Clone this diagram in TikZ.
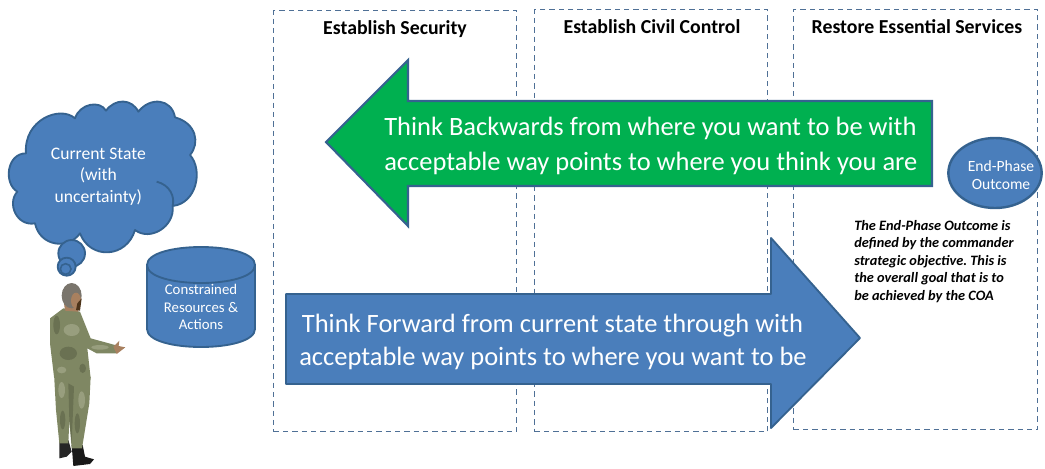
\documentclass[tikz,border=0pt]{standalone}
\usepackage{fontspec}
\setmainfont{Carlito}
\usetikzlibrary{shapes.geometric}
\definecolor{bluefill}{HTML}{4A7EBB}
\definecolor{blueedge}{HTML}{35628F}
\definecolor{greenfill}{HTML}{00B050}
\definecolor{dashc}{HTML}{4F7096}
\definecolor{camo}{HTML}{7F8763}
\definecolor{camod}{HTML}{6A7152}
\definecolor{camol}{HTML}{989E7E}
\definecolor{skin}{HTML}{A8805F}
\definecolor{hair}{HTML}{7A756C}
\newcommand{\fpx}[2]{\fontsize{#1pt}{#2pt}\selectfont}
\frenchspacing
\tikzset{
  zonebox/.style={draw=dashc,line width=1.1pt,dash pattern=on 4pt off 3pt},
  headtxt/.style={font=\bfseries\fpx{14.85}{16},text=black,inner sep=0pt},
  bigtxt/.style={font=\fpx{19.85}{26.2},text=white,align=left,anchor=west,inner sep=0pt},
  smalltxt/.style={font=\fpx{11.1}{13},text=white,align=center,inner sep=0pt},
  bluesh/.style={fill=bluefill,draw=blueedge,line width=1.4pt,line join=round},
  greensh/.style={fill=greenfill,draw=blueedge,line width=1.6pt,line join=miter},
}
\begin{document}
\begin{tikzpicture}[x=0.75pt,y=-0.75pt]
\useasboundingbox (0,0) rectangle (1045,468);
% dashed columns
\node[zonebox,minimum width=182.2pt,minimum height=315.75pt,inner sep=0pt,anchor=north west] (z1) at (273,10) {};
\node[zonebox,minimum width=174.7pt,minimum height=316.5pt,inner sep=0pt,anchor=north west] (z2) at (534,9) {};
\node[zonebox,minimum width=183pt,minimum height=315pt,inner sep=0pt,anchor=north west] (z3) at (793,9) {};
\node[headtxt] (h1) at (395,29) {Establish Security};
\node[headtxt] (h2) at (652,27) {Establish Civil Control};
\node[headtxt] (h3) at (917,27) {Restore Essential Services};
% arrows
\path[greensh] (326,142) -- (408,60) -- (408,101) -- (932,101) -- (932,186) -- (408,186) -- (408,226) -- cycle;
\node[bigtxt] (tb) at (384,146) {Think Backwards from where you want to be with\\acceptable way points to where you think you are};
\path[bluesh] (286,294) -- (771,294) -- (771,238) -- (860,338) -- (771,428) -- (771,384) -- (286,384) -- cycle;
\node[bigtxt,font=\fpx{19.85}{25}] (tf) at (299,342) {\hspace*{2pt}Think Forward from current state through with\\acceptable way points to where you want to be};
% end phase
\node[ellipse,bluesh,minimum width=70pt,minimum height=52.5pt,inner sep=0pt,line width=1.8pt] (ep) at (995,173) {};
\node[smalltxt,font=\fpx{11.7}{14}] (eptxt) at (1001,175) {End-Phase\\Outcome};
\node[font=\bfseries\itshape\fpx{10.75}{13.1},text=black,align=left,anchor=north west,inner sep=0pt] (note) at (854,220)
 {The End-Phase Outcome is\\defined by the commander\\strategic objective. This is\\the overall goal that is to\\be achieved by the COA};
% cylinder
\path[bluesh] (147,265) .. controls (147,241) and (255,241) .. (255,265) -- (255,329) .. controls (255,353) and (147,353) .. (147,329) -- cycle;
\path[draw=blueedge,line width=1.4pt] (147,265) .. controls (147,289) and (255,289) .. (255,265);
\node[smalltxt] (res) at (201,307) {Constrained\\Resources \&\\Actions};
% cloud and figure, in the 3x crop's coordinates
\begin{scope}[x=0.25pt,y=-0.25pt,yshift=-67.5pt]
\path[bluesh] (78,190) .. controls (70,90) and (180,45) .. (225,85)
 .. controls (240,40) and (300,30) .. (318,62)
 .. controls (345,25) and (395,25) .. (415,65)
 .. controls (450,20) and (515,25) .. (525,82)
 .. controls (590,100) and (600,160) .. (570,195)
 .. controls (610,240) and (590,340) .. (518,348)
 .. controls (525,410) and (450,455) .. (405,420)
 .. controls (380,505) and (270,510) .. (240,430)
 .. controls (205,480) and (120,470) .. (105,400)
 .. controls (50,410) and (20,340) .. (52,305)
 .. controls (10,280) and (20,190) .. (78,190) -- cycle;
\draw[blueedge,line width=1.4pt] (470,275) .. controls (510,285) and (525,320) .. (518,348);
\draw[bluesh] (215,490) circle[radius=40];
\draw[bluesh] (200,530) circle[radius=27];
\draw[blueedge,line width=1.2pt] (197,537) circle[radius=16];
\node[smalltxt,font=\fpx{13.2}{16.2}] (cur) at (295,259) {Current State\\(with\\uncertainty)};
% soldier
\fill[black!85] (178,1050) -- (205,1050) -- (215,1085) -- (200,1100) -- (178,1105) -- cycle;
\fill[black!90] (215,1065) -- (248,1065) -- (255,1100) -- (282,1108) -- (270,1122) -- (220,1128) -- cycle;
\fill[camo] (162,850) -- (272,860) -- (268,940) -- (246,1075) -- (215,1075) -- (208,990) -- (205,1060) -- (178,1060) -- (168,960) -- cycle;
\fill[camod] (205,880) -- (222,890) -- (215,1060) -- (208,990) -- cycle;
\fill[camol] (185,900) ellipse[x radius=10,y radius=24];
\fill[camol] (245,930) ellipse[x radius=10,y radius=26];
\fill[camod] (232,1000) ellipse[x radius=8,y radius=30];
\fill[camod] (188,990) ellipse[x radius=8,y radius=28];
\fill[camo] (150,685) -- (190,655) -- (240,665) -- (272,745) -- (345,765) -- (348,790) -- (290,790) -- (262,775) -- (272,865) -- (162,860) -- (150,760) -- cycle;
\fill[camod] (170,705) ellipse[x radius=10,y radius=28];
\fill[camol] (215,720) ellipse[x radius=24,y radius=18];
\fill[camod] (205,790) ellipse[x radius=26,y radius=20];
\fill[camol] (300,772) ellipse[x radius=26,y radius=7];
\fill[camol] (185,840) ellipse[x radius=14,y radius=10];
\fill[camod] (248,835) ellipse[x radius=10,y radius=14];
\fill[skin] (340,770) -- (358,752) -- (356,768) -- (376,772) -- (350,792) -- cycle;
\fill[skin] (192,640) -- (235,640) -- (235,665) -- (195,662) -- cycle;
\fill[hair] (215,617) ellipse[x radius=30,y radius=38];
\fill[skin] (228,632) ellipse[x radius=15,y radius=24];
\fill[black!60!brown] (232,640) -- (245,625) -- (240,662) -- (228,660) -- cycle;
\end{scope}
\end{tikzpicture}
\end{document}
